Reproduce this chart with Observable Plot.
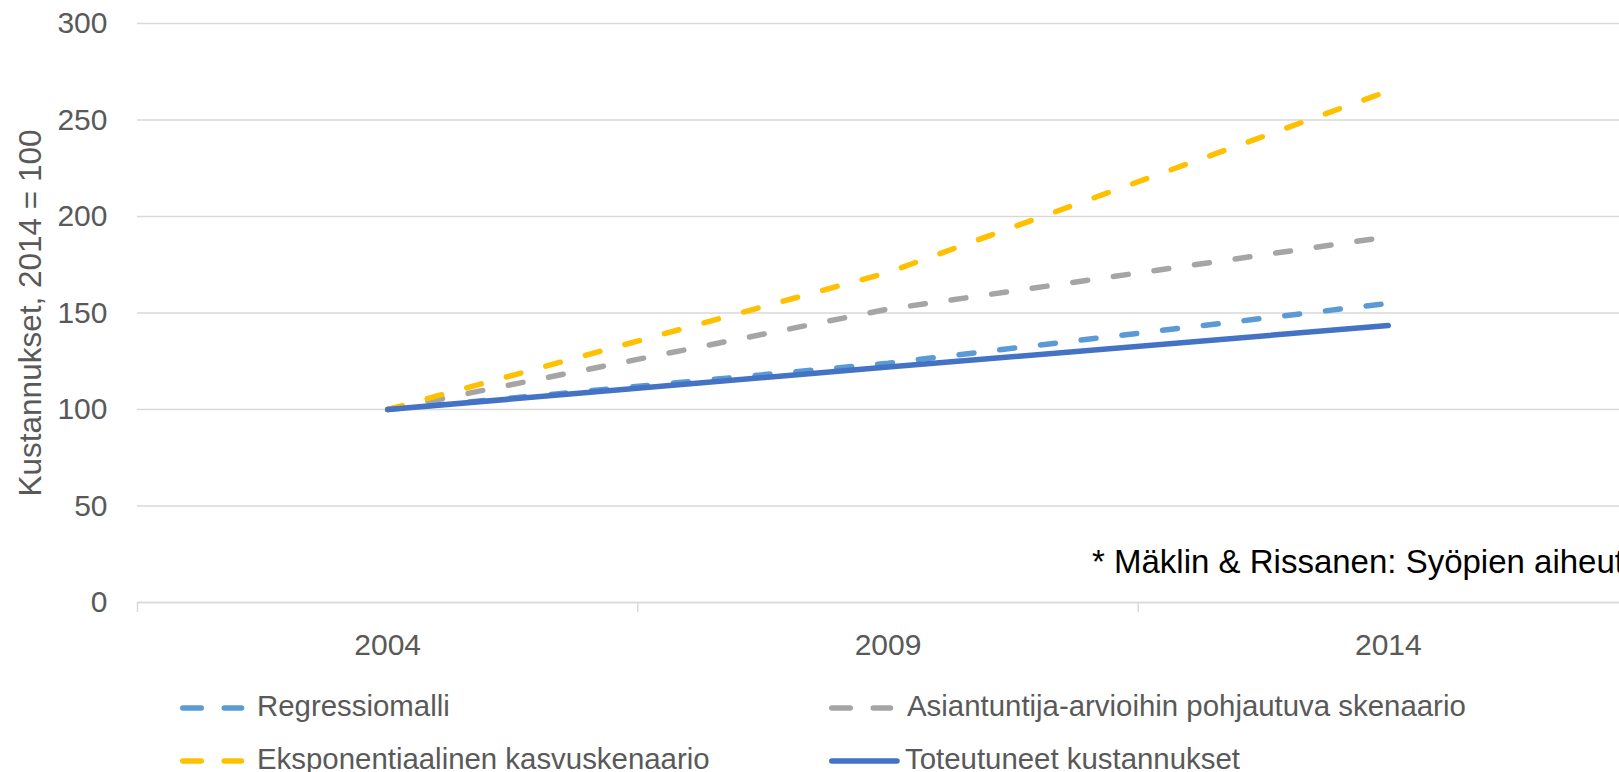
<!DOCTYPE html>
<html><head><meta charset="utf-8">
<script src="https://cdn.jsdelivr.net/npm/d3@7"></script>
<script src="https://cdn.jsdelivr.net/npm/@observablehq/plot@0.6"></script>
<style>
html,body{margin:0;padding:0;background:#fff;overflow:hidden;}
#wrap{position:relative;width:1619px;height:772px;overflow:hidden;font-family:"Liberation Sans",Arial,sans-serif;}
#wrap svg{max-width:none !important;display:block;}
#overlay{position:absolute;left:0;top:0;pointer-events:none;}
</style></head><body><div id="wrap"></div>
<script>
// ---- data ----
const years = [2004, 2009, 2014];
const xTickLabels = ["2004", "2009", "2014"];
const xBandEdges = [2001.5, 2006.5, 2011.5, 2016.5];
const yTicks = [0, 50, 100, 150, 200, 250, 300];
const seriesNames = [
  "Regressiomalli",
  "Asiantuntija-arvioihin pohjautuva skenaario",
  "Eksponentiaalinen kasvuskenaario",
  "Toteutuneet kustannukset"
];
const regressiomalli = [100, 124, 155];
const asiantuntija = [100, 152, 189.5];
const eksponentiaalinen = [100, 171, 265];
const toteutuneet = [100, 122, 143.5];
const seriesColors = ["#5B9BD5", "#A5A5A5", "#FFC000", "#4472C4"];
const seriesDashed = [true, true, true, false];
const yLabel = "Kustannukset, 2014 = 100";
const caption = "* Mäklin & Rissanen: Syöpien aiheuttamat kustannukset";

// ---- table ----
const seriesValues = [regressiomalli, asiantuntija, eksponentiaalinen, toteutuneet];
const rows = [];
seriesNames.forEach((s, i) => years.forEach((yr, j) => rows.push({series: s, year: yr, value: seriesValues[i][j]})));

const font = "'Liberation Sans', Arial, sans-serif";
const chart = Plot.plot({
  width: 1660, height: 665,
  marginLeft: 137, marginRight: 22, marginTop: 23, marginBottom: 63,
  style: {fontFamily: font, fontSize: "30px", color: "#595959", background: "#fff", maxWidth: "none", overflow: "visible"},
  x: {type: "linear", domain: [2001.5, 2016.5]},
  y: {domain: [0, 300]},
  color: {domain: seriesNames, range: seriesColors},
  marks: [
    Plot.gridY(yTicks, {stroke: "#d9d9d9", strokeOpacity: 1, strokeWidth: 1.5}),
    Plot.axisY(yTicks, {tickSize: 0, tickPadding: 30, label: null, fill: "#595959"}),
    Plot.axisY([], {label: yLabel, labelAnchor: "center", labelOffset: 119, labelArrow: "none", fill: "#595959", fontSize: 31.5}),
    Plot.axisX(years, {tickSize: 0, tickPadding: 31, tickFormat: d => xTickLabels[years.indexOf(d)], label: null, fill: "#595959"}),
    Plot.axisX(xBandEdges, {tickSize: 10, tickFormat: () => "", label: null, stroke: "#d9d9d9", strokeOpacity: 1, strokeWidth: 1.5}),
    Plot.ruleY([0], {stroke: "#d9d9d9", strokeWidth: 1.5}),
    ...seriesNames.map((s, i) => Plot.line(rows.filter(r => r.series === s), {
      x: "year", y: "value", stroke: "series", strokeWidth: 5.5,
      strokeLinecap: "round", strokeLinejoin: "round",
      strokeDasharray: seriesDashed[i] ? "15,26" : "none"
    }))
  ]
});
const wrap = document.getElementById("wrap");
wrap.appendChild(chart);

// ---- legend + caption overlay ----
const legendPos = [
  {x: 180, y: 708, tx: 257},
  {x: 829, y: 708, tx: 907},
  {x: 180, y: 761, tx: 257},
  {x: 829, y: 761, tx: 905}
];
const ns = "http://www.w3.org/2000/svg";
const ov = document.createElementNS(ns, "svg");
ov.setAttribute("id", "overlay");
ov.setAttribute("width", 1619); ov.setAttribute("height", 772);
seriesNames.forEach((s, i) => {
  const p = legendPos[i];
  const ln = document.createElementNS(ns, "line");
  ln.setAttribute("x1", p.x + 2.75);
  ln.setAttribute("x2", seriesDashed[i] ? p.x + 61.5 : p.x + 68);
  ln.setAttribute("y1", p.y); ln.setAttribute("y2", p.y);
  ln.setAttribute("stroke", seriesColors[i]);
  ln.setAttribute("stroke-width", 5.5);
  ln.setAttribute("stroke-linecap", "round");
  if (seriesDashed[i]) ln.setAttribute("stroke-dasharray", "18.5,23");
  ov.appendChild(ln);
  const t = document.createElementNS(ns, "text");
  t.setAttribute("x", p.tx); t.setAttribute("y", p.y + 8);
  t.setAttribute("fill", "#595959");
  t.setAttribute("font-family", font);
  t.setAttribute("font-size", 29.4);
  t.textContent = s;
  ov.appendChild(t);
});
const cap = document.createElementNS(ns, "text");
cap.setAttribute("x", 1092); cap.setAttribute("y", 573);
cap.setAttribute("fill", "#000");
cap.setAttribute("font-family", font);
cap.setAttribute("font-size", 33);
cap.textContent = caption;
ov.appendChild(cap);
wrap.appendChild(ov);
</script>
</body></html>
